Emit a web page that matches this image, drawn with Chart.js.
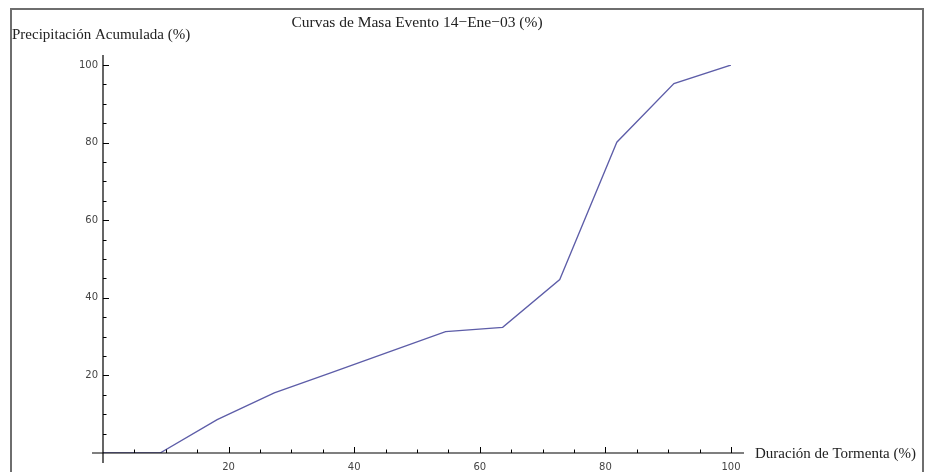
<!DOCTYPE html>
<html>
<head>
<meta charset="utf-8">
<script src="https://cdn.jsdelivr.net/npm/chart.js@4"></script>
<style>
  body { margin: 0; background: #fff; }
  #wrap { position: relative; width: 925px; height: 472px; overflow: hidden; }
  #marco { position: absolute; left: 10px; top: 8px; width: 910px; height: 480px; border: 2px solid #6e6e6e; }
  canvas { position: absolute; left: 0; top: 0; }
</style>
</head>
<body>
<div id="wrap">
  <div id="marco"></div>
  <canvas id="curvaMasa" width="925" height="472"></canvas>
</div>
<script>
// Curva de masa: duración (%) vs precipitación acumulada (%)
const duracion = [0, 9.09, 18.18, 27.27, 36.36, 45.45, 54.55, 63.64, 72.73, 81.82, 90.91, 100];
const precipitacion = [0, 0, 8.6, 15.5, 20.7, 26.0, 31.3, 32.4, 44.7, 80.1, 95.2, 100];
const marcasX = [20, 40, 60, 80, 100];
const marcasY = [20, 40, 60, 80, 100];

const titulo = "Curvas de Masa Evento 14\u2212Ene\u221203 (%)";
const tituloY = "Precipitación Acumulada (%)";
const tituloX = "Duración de Tormenta (%)";

const fuenteSerif = "Liberation Serif, Times New Roman, serif";

// ejes al estilo Mathematica, cruzando en el origen
const ejesPlugin = {
    id: "ejes",
    afterDatasetsDraw(chart) {
        const { ctx, scales: { x, y } } = chart;
        const x0 = x.getPixelForValue(0);
        const y0 = y.getPixelForValue(0);
        ctx.save();
        ctx.strokeStyle = "#000";
        ctx.lineWidth = 1.2;
        ctx.beginPath();
        ctx.moveTo(x0 - 11, y0);
        ctx.lineTo(x.getPixelForValue(100) + 13, y0);
        ctx.moveTo(x0, y0 + 10);
        ctx.lineTo(x0, y.getPixelForValue(100) - 10);
        ctx.stroke();

        ctx.lineWidth = 1;
        ctx.beginPath();
        for (let v = 5; v <= 100; v += 5) {
            const largo = marcasX.includes(v) ? 6 : 3.5;
            const px = Math.round(x.getPixelForValue(v)) + 0.5;
            ctx.moveTo(px, y0);
            ctx.lineTo(px, y0 - largo);
        }
        for (let v = 5; v <= 100; v += 5) {
            const largo = marcasY.includes(v) ? 6 : 3.5;
            const py = Math.round(y.getPixelForValue(v)) + 0.5;
            ctx.moveTo(x0, py);
            ctx.lineTo(x0 + largo, py);
        }
        ctx.stroke();

        // textos
        ctx.fillStyle = "#222";
        ctx.font = "15.5px " + fuenteSerif;
        ctx.textBaseline = "alphabetic";
        ctx.textAlign = "center";
        ctx.fillText(titulo, (chart.chartArea.left + chart.chartArea.right) / 2, 27);
        ctx.textAlign = "left";
        ctx.font = "15px " + fuenteSerif;
        ctx.fillText(tituloY, 12, 39);
        ctx.fillText(tituloX, 755, 458);
        ctx.restore();
    },
};

const ctx = document.getElementById("curvaMasa").getContext("2d");

new Chart(ctx, {
    type: "line",
    data: {
        datasets: [
            {
                data: duracion.map((d, i) => ({ x: d, y: precipitacion[i] })),
                borderColor: "#5d5da8",
                borderWidth: 1.3,
                pointRadius: 0,
                tension: 0,
                fill: false,
            },
        ],
    },
    options: {
        responsive: false,
        animation: false,
        layout: {
            padding: { left: 63, right: 194, top: 65, bottom: 0 },
        },
        plugins: {
            legend: { display: false },
            tooltip: { enabled: false },
            title: { display: false },
        },
        scales: {
            x: {
                type: "linear",
                min: 0,
                max: 100,
                afterFit: (scale) => { scale.height = 19; },
                border: { display: false },
                grid: { display: false, drawTicks: false },
                ticks: {
                    stepSize: 5,
                    autoSkip: false,
                    maxRotation: 0,
                    padding: 8,
                    color: "#444",
                    font: { family: "DejaVu Sans", size: 10 },
                    callback: (v) => (marcasX.includes(v) ? String(v) : ""),
                },
            },
            y: {
                type: "linear",
                min: 0,
                max: 100,
                afterFit: (scale) => { scale.width = 40; },
                border: { display: false },
                grid: { display: false, drawTicks: false },
                ticks: {
                    stepSize: 5,
                    autoSkip: false,
                    padding: 5,
                    color: "#444",
                    font: { family: "DejaVu Sans", size: 10 },
                    callback: (v) => (marcasY.includes(v) ? String(v) : ""),
                },
            },
        },
    },
    plugins: [ejesPlugin],
});
</script>
</body>
</html>
